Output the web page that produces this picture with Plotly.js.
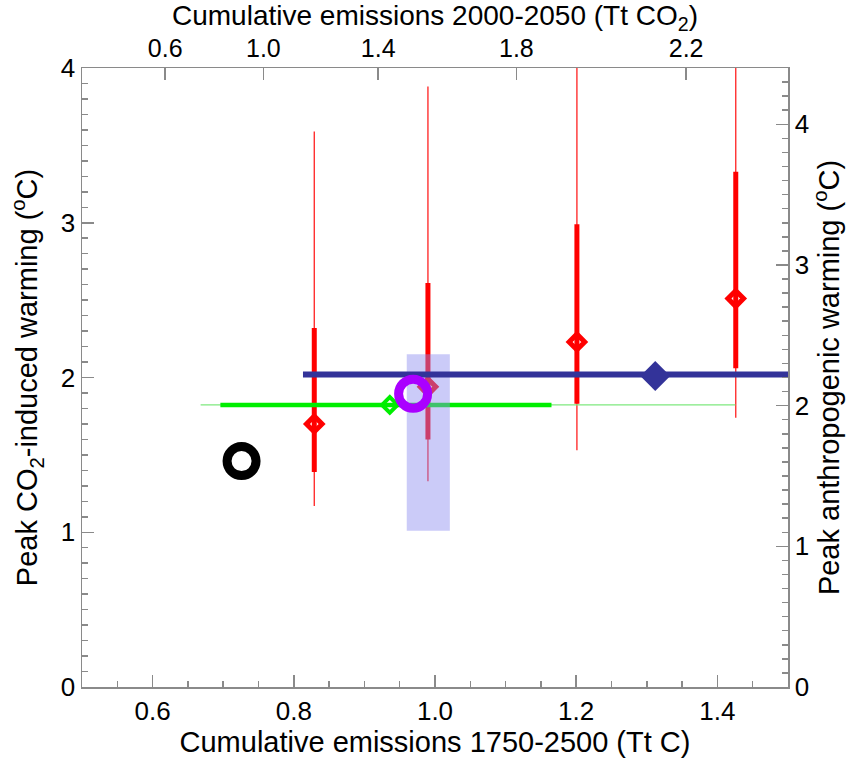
<!DOCTYPE html>
<html>
<head>
<meta charset="utf-8">
<script src="https://cdn.plot.ly/plotly-3.0.1.min.js"></script>
<style>html,body{margin:0;padding:0;background:#fff;}#chart{width:846px;height:760px;}</style>
</head>
<body>
<div id="chart"></div>
<script>
// Red: peak CO2-induced warming vs cumulative emissions (median, likely and very likely ranges)
const redX       = [0.829, 0.990, 1.201, 1.426];
const redMid     = [1.70, 1.94, 2.23, 2.51];
const redThickLo = [1.39, 1.60, 1.83, 2.06];
const redThickHi = [2.32, 2.61, 2.99, 3.33];
const redThinLo  = [1.17, 1.33, 1.53, 1.74];
const redThinHi  = [3.59, 3.88, 4.30, 4.50];

// Green horizontal range
const greenX = [0.936];
const greenY = [1.823];
const greenThickLo = [0.696];
const greenThickHi = [1.165];
const greenThinLo  = [0.668];
const greenThinHi  = [1.4255];

// Blue
const blueLineX = [0.813, 1.507];
const blueLineY = [2.02, 2.02];
const blueX = [1.312];
const blueY = [2.01];

// Shaded box
const boxX = [0.960, 1.021, 1.021, 0.960, 0.960];
const boxY = [1.01, 1.01, 2.15, 2.15, 1.01];

// Circles
const purpleX = [0.969];
const purpleY = [1.895];
const blackX = [0.726];
const blackY = [1.46];

// Axis ticks
const bottomTickVals = [0.6, 0.8, 1.0, 1.2, 1.4];
const topTickPos  = [0.6178, 0.7569, 0.9195, 1.1153, 1.3557];
const topTickText = ["0.6", "1.0", "1.4", "1.8", "2.2"];
const leftTickVals = [0, 1, 2, 3, 4];
const rightTickVals = [0, 1, 2, 3, 4];

const sub = (a, b) => a.map((v, i) => v - b[i]);

const traces = [
  { // thin red ranges
    x: redX, y: redMid, type: 'scatter', mode: 'markers',
    marker: {size: 1, color: 'rgba(0,0,0,0)'},
    error_y: {type: 'data', symmetric: false, array: sub(redThinHi, redMid), arrayminus: sub(redMid, redThinLo),
              color: '#ff2020', thickness: 1.3, width: 0},
    showlegend: false, hoverinfo: 'skip'
  },
  { // thick red ranges
    x: redX, y: redMid, type: 'scatter', mode: 'markers',
    marker: {symbol: 'diamond-open', size: 12, color: '#ff0000', line: {width: 5, color: '#ff0000'}},
    error_y: {type: 'data', symmetric: false, array: sub(redThickHi, redMid), arrayminus: sub(redMid, redThickLo),
              color: '#ff0000', thickness: 5, width: 0},
    showlegend: false
  },
  { // thin green
    x: greenX, y: greenY, type: 'scatter', mode: 'markers',
    marker: {size: 1, color: 'rgba(0,0,0,0)'},
    error_x: {type: 'data', symmetric: false, array: sub(greenThinHi, greenX), arrayminus: sub(greenX, greenThinLo),
              color: '#7ee87e', thickness: 1.2, width: 0},
    showlegend: false, hoverinfo: 'skip'
  },
  { // thick green + diamond
    x: greenX, y: greenY, type: 'scatter', mode: 'markers',
    marker: {symbol: 'diamond-open', size: 12, color: '#00ee00', line: {width: 4, color: '#00ee00'}},
    error_x: {type: 'data', symmetric: false, array: sub(greenThickHi, greenX), arrayminus: sub(greenX, greenThickLo),
              color: '#00ee00', thickness: 4.5, width: 0},
    showlegend: false
  },
  { // shaded box
    x: boxX, y: boxY, type: 'scatter', mode: 'lines', fill: 'toself',
    fillcolor: 'rgba(140,140,240,0.45)', line: {width: 0, color: 'rgba(0,0,0,0)'},
    showlegend: false, hoverinfo: 'skip'
  },
  { // blue line
    x: blueLineX, y: blueLineY, type: 'scatter', mode: 'lines',
    line: {color: '#333399', width: 6}, showlegend: false
  },
  { // blue diamond
    x: blueX, y: blueY, type: 'scatter', mode: 'markers',
    marker: {symbol: 'diamond', size: 23, color: '#333399'}, showlegend: false
  },
  { // purple circle
    x: purpleX, y: purpleY, type: 'scatter', mode: 'markers',
    marker: {symbol: 'circle-open', size: 29, color: '#aa00ff', line: {width: 9, color: '#aa00ff'}}, showlegend: false
  },
  { // black circle
    x: blackX, y: blackY, type: 'scatter', mode: 'markers',
    marker: {symbol: 'circle-open', size: 29, color: '#000000', line: {width: 9, color: '#000000'}}, showlegend: false
  },
  { // anchor for top/right axes
    x: [0.5], y: [0], xaxis: 'x2', yaxis: 'y2', type: 'scatter', mode: 'markers',
    marker: {size: 1, color: 'rgba(0,0,0,0)'}, showlegend: false, hoverinfo: 'skip'
  }
];

const FONT = '"Liberation Sans", Arial, Helvetica, sans-serif';
const axCol = '#8a8a8a';
const TS = 29;
const common = {
  showline: true, linecolor: axCol, linewidth: 1.5, showgrid: false, zeroline: false,
  ticks: 'inside', ticklen: 12, tickwidth: 1.5, tickcolor: axCol,
  tickfont: {family: FONT, size: 26, color: '#000'}
};

const layout = {
  width: 846, height: 760,
  margin: {l: 82, r: 58, t: 68, b: 73},
  paper_bgcolor: '#fff', plot_bgcolor: '#fff',
  font: {family: FONT, color: '#000'},
  showlegend: false,
  xaxis: Object.assign({}, common, {
    range: [0.5, 1.5], tickmode: 'array', tickvals: bottomTickVals, tickformat: '.1f',
    minor: {ticks: 'inside', dtick: 0.05, tick0: 0.5, ticklen: 6, tickwidth: 1.5, tickcolor: axCol, showgrid: false},
    title: {text: 'Cumulative emissions 1750-2500 (Tt C)', font: {family: FONT, size: TS, color: '#000'}, standoff: 2}
  }),
  yaxis: Object.assign({}, common, {
    range: [0, 4], tickmode: 'array', tickvals: leftTickVals,
    minor: {ticks: 'inside', dtick: 0.1, tick0: 0, ticklen: 6, tickwidth: 1.5, tickcolor: axCol, showgrid: false},
    title: {text: 'Peak CO<sub>2</sub>-induced warming (<sup>o</sup>C)', font: {family: FONT, size: TS, color: '#000'}, standoff: 14}
  }),
  xaxis2: Object.assign({}, common, {
    overlaying: 'x', side: 'top', anchor: 'y2', range: [0.5, 1.5], tickmode: 'array',
    tickvals: topTickPos, ticktext: topTickText,
    tickfont: {family: FONT, size: 25, color: '#000'},
    title: {text: 'Cumulative emissions 2000-2050 (Tt CO<sub>2</sub>)', font: {family: FONT, size: 28, color: '#000'}, standoff: 0}
  }),
  yaxis2: Object.assign({}, common, {
    overlaying: 'y', side: 'right', anchor: 'x2', range: [0, 4.4], tickmode: 'array', tickvals: rightTickVals,
    minor: {ticks: 'inside', dtick: 0.1, tick0: 0, ticklen: 6, tickwidth: 1.5, tickcolor: axCol, showgrid: false},
    title: {text: 'Peak anthropogenic warming (<sup>o</sup>C)', font: {family: FONT, size: TS, color: '#000'}, standoff: 6}
  })
};

Plotly.newPlot('chart', traces, layout, {displayModeBar: false, staticPlot: true});
</script>
</body>
</html>
